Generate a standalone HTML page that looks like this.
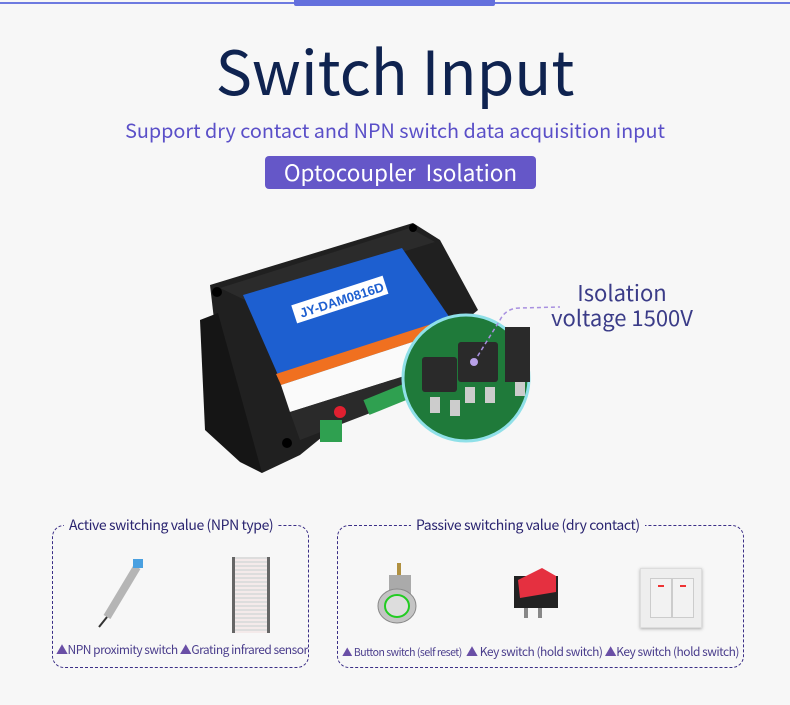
<!DOCTYPE html>
<html><head><meta charset="utf-8"><style>
body{margin:0;width:790px;height:705px;background:#f7f7f7;position:relative;overflow:hidden;font-family:"Noto Sans CJK SC","Liberation Sans",sans-serif}
.a{position:absolute}
.box{position:absolute;border:1.5px dashed #3b2e86;border-radius:12px}
.lab{position:absolute;background:#f7f7f7;color:#2a2470;font-size:14px;line-height:18px;padding:0 5px;white-space:nowrap;letter-spacing:-0.4px}
.cap{position:absolute;color:#4a3d8c;font-size:12px;line-height:14px;white-space:nowrap;letter-spacing:-0.5px}
.cap b{color:#6a4fa6;font-weight:normal}
</style></head><body>
<div class="a" style="left:0;top:2px;width:790px;height:2px;background:#6d7ae0"></div>
<div class="a" style="left:294px;top:0;width:201px;height:6px;background:#6470dd;border-radius:0 0 2px 2px"></div>
<div class="a" style="left:0;top:38px;width:790px;text-align:center;font-size:61px;line-height:61px;color:#0f2350">Switch Input</div>
<div class="a" style="left:0;top:120px;width:790px;text-align:center;font-size:19.8px;line-height:20px;color:#5a4fc8">Support dry contact and NPN switch data acquisition input</div>
<div class="a" style="left:265px;top:156px;width:271px;height:33px;background:#6557c8;border-radius:4px;color:#fff;font-size:22.5px;line-height:33px;text-align:center">Optocoupler&nbsp; Isolation</div>

<!-- device -->
<svg class="a" style="left:0;top:0" width="790" height="705">
<polygon points="210,285 413,223 440,240 478,310 300,455 262,473 240,460 228,440" fill="#202020"/>
<polygon points="200,320 218,313 262,473 240,462 205,430" fill="#151515"/>
<polygon points="220,288 410,228 435,242 245,300" fill="#2b2b2b"/>
<polygon points="243,295 402,248 450,318 278,375" fill="#1d5fd0"/>
<polygon points="276,374 450,318 455,328 281,385" fill="#f07020"/>
<polygon points="281,385 455,328 455,360 290,412" fill="#fafafa"/>
<polygon points="290,412 455,360 430,390 300,440" fill="#2a2a2a"/>
<rect x="292" y="290" width="96" height="19" fill="#fff" transform="rotate(-18 340 300)"/>
<text x="298" y="305" font-size="13" font-weight="bold" fill="#1d5fd0" transform="rotate(-18 340 300)" font-family="Liberation Sans">JY-DAM0816D</text>
<circle cx="340" cy="412" r="6" fill="#e02030"/>
<rect x="320" y="420" width="22" height="22" fill="#2fa050"/>
<rect x="365" y="392" width="45" height="16" fill="#2fa050" transform="rotate(-22 385 400)"/>
<circle cx="217" cy="292" r="5" fill="#000"/><circle cx="413" cy="228" r="4" fill="#000"/><circle cx="287" cy="443" r="5" fill="#000"/>
</svg>
<svg class="a" style="left:400px;top:312px" width="134" height="134">
<circle cx="66" cy="66" r="63" fill="#1f7a3a" stroke="#8fe0e8" stroke-width="3"/>
<rect x="22" y="45" width="35" height="35" fill="#2a2a2a" rx="3"/>
<rect x="58" y="30" width="40" height="40" fill="#2a2a2a" rx="3"/>
<rect x="105" y="15" width="25" height="55" fill="#2a2a2a"/>
<rect x="30" y="85" width="10" height="16" fill="#ccc"/><rect x="50" y="88" width="10" height="16" fill="#ccc"/>
<rect x="65" y="75" width="10" height="16" fill="#ccc"/><rect x="85" y="75" width="10" height="16" fill="#ccc"/>
<rect x="115" y="70" width="10" height="14" fill="#ccc"/>
</svg>
<svg class="a" style="left:0;top:0" width="790" height="705"><path d="M474,362 L500,320 Q506,308 520,308 L560,307" fill="none" stroke="#a890e0" stroke-width="1.5" stroke-dasharray="4,3"/><circle cx="474" cy="362" r="4" fill="#b8a0e8"/></svg>
<div class="a" style="left:542px;top:280px;width:160px;text-align:center;color:#3b3c88;font-size:22px;line-height:25px">Isolation<br>voltage 1500V</div>

<div class="box" style="left:52px;top:525px;width:255px;height:141px"></div>
<div class="lab" style="left:64px;top:516px">Active switching value (NPN type)</div>
<div class="box" style="left:337px;top:525px;width:405px;height:141px"></div>
<div class="lab" style="left:411px;top:516px">Passive switching value (dry contact)</div>

<svg class="a" style="left:95px;top:555px" width="60" height="75"><line x1="12" y1="62" x2="42" y2="12" stroke="#b5b5b5" stroke-width="8"/><rect x="38" y="4" width="10" height="9" fill="#4aa0e0"/><line x1="12" y1="62" x2="4" y2="72" stroke="#333" stroke-width="2"/></svg>
<div class="a" style="left:232px;top:557px;width:32px;height:76px;background:repeating-linear-gradient(#ddd 0 2px,#f4eaea 2px 4px);border-left:3px solid #666;border-right:3px solid #666"></div>
<svg class="a" style="left:375px;top:560px" width="50" height="70"><rect x="22" y="3" width="4" height="12" fill="#b09040"/><rect x="14" y="15" width="22" height="20" fill="#aaa"/><ellipse cx="22" cy="46" rx="19" ry="17" fill="#c4c4c4" stroke="#888"/><ellipse cx="22" cy="46" rx="12" ry="11" fill="#ddd" stroke="#2c2" stroke-width="2"/></svg>
<svg class="a" style="left:508px;top:562px" width="56" height="60"><rect x="6" y="14" width="44" height="32" fill="#222"/><polygon points="10,18 34,6 48,14 48,30 12,36" fill="#e53040"/><rect x="16" y="46" width="4" height="10" fill="#888"/><rect x="30" y="46" width="4" height="10" fill="#888"/></svg>
<div class="a" style="left:640px;top:568px;width:60px;height:58px;background:#eee;border:1px solid #ddd;box-shadow:0 1px 3px #aaa"><div style="position:absolute;left:9px;top:9px;width:20px;height:38px;background:#f2f2f2;border:1px solid #ccc"><div style="margin:6px auto;width:6px;height:2px;background:#e33"></div></div><div style="position:absolute;left:31px;top:9px;width:20px;height:38px;background:#f2f2f2;border:1px solid #ccc"><div style="margin:6px auto;width:6px;height:2px;background:#e33"></div></div></div>

<div class="cap" style="left:56px;top:643px"><b>▲</b>NPN proximity switch <b>▲</b>Grating infrared sensor</div>
<div class="cap" style="left:342px;top:646px;font-size:10.5px"><b>▲</b> Button switch (self reset)</div>
<div class="cap" style="left:466px;top:645px"><b>▲</b> Key switch (hold switch) <b>▲</b>Key switch (hold switch)</div>
</body></html>
